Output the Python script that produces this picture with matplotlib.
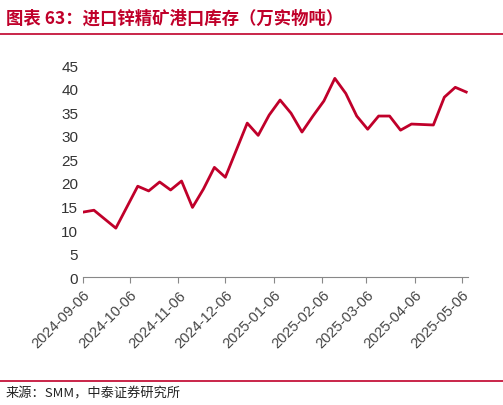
import matplotlib
matplotlib.use("Agg")
import matplotlib.pyplot as plt
import pandas as pd

plt.rcParams['font.family'] = ['Noto Sans CJK SC', 'DejaVu Sans']

dates = ["2024-09-06","2024-09-13","2024-09-27","2024-10-11","2024-10-18","2024-10-25",
         "2024-11-01","2024-11-08","2024-11-15","2024-11-22","2024-11-29","2024-12-06",
         "2024-12-20","2024-12-27","2025-01-03","2025-01-10","2025-01-17","2025-01-24",
         "2025-01-31","2025-02-07","2025-02-14","2025-02-21","2025-02-28","2025-03-07",
         "2025-03-14","2025-03-21","2025-03-28","2025-04-04","2025-04-18","2025-04-25",
         "2025-05-02","2025-05-09"]
values = [13.8,14.2,10.4,19.3,18.3,20.2,18.5,20.4,14.8,18.7,23.3,21.2,
          32.7,30.1,34.4,37.6,34.8,30.8,34.2,37.4,42.2,39.0,34.2,31.4,
          34.2,34.2,31.2,32.5,32.3,38.2,40.3,39.3]
ticks = ["2024-09-06","2024-10-06","2024-11-06","2024-12-06","2025-01-06",
         "2025-02-06","2025-03-06","2025-04-06","2025-05-06"]

red = "#C0002A"
fig = plt.figure(figsize=(5.03, 4.06), dpi=100)
ax = fig.add_axes([0.165, 0.315, 0.765, 0.522])
ax.plot(pd.to_datetime(dates), values, color=red, lw=2)
ax.set_ylim(0, 45)
ax.set_yticks(range(0, 46, 5))
ax.set_xticks(pd.to_datetime(ticks))
ax.set_xticklabels(ticks, rotation=45, ha='right', rotation_mode='anchor')
ax.set_xlim(pd.Timestamp("2024-09-06"), pd.Timestamp("2025-05-10"))
for lab in ax.get_xticklabels() + ax.get_yticklabels():
    lab.set_family('Liberation Sans')
for s in ['top', 'right', 'left']:
    ax.spines[s].set_visible(False)
ax.spines['bottom'].set_color('#888888')
ax.tick_params(axis='y', length=0, labelsize=11, colors='#333333')
ax.tick_params(axis='x', length=4, color='#888888', labelsize=10.5, colors='#444444')

fig.text(0.012, 0.955, "图表 63：进口锌精矿港口库存（万实物吨）", color=red,
         fontsize=12.5, fontweight='bold', style='italic', va='center')
fig.add_artist(plt.Line2D([0.0, 1.0], [0.915, 0.915], color=red, lw=1.2))
fig.add_artist(plt.Line2D([0.0, 1.0], [0.06, 0.06], color=red, lw=1.2))
fig.text(0.012, 0.03, "来源：SMM，中泰证券研究所", fontsize=9.5, color='#222222', va='center')
fig.savefig("out.png", dpi=100)
